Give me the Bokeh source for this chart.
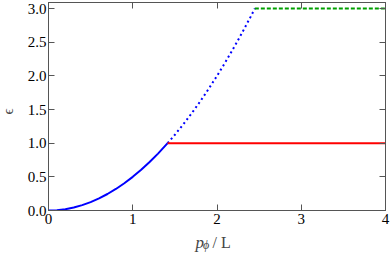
from bokeh.plotting import figure
from bokeh.models import LinearAxis, Label, Range1d, FixedTicker, CustomLabelingPolicy
from bokeh.embed import file_html
from bokeh.resources import INLINE
import math

# Blue solid branch
x_solid = [0.0, 0.1, 0.2, 0.3, 0.4, 0.5, 0.6, 0.7, 0.8, 0.9, 1.0, 1.1, 1.2, 1.3, 1.414]
y_solid = [0.0, 0.005, 0.02, 0.045, 0.08, 0.125, 0.18, 0.245, 0.32, 0.405, 0.5, 0.605, 0.72, 0.845, 1.0]
# Blue dotted branch
x_dot = [1.414, 1.5, 1.6, 1.7, 1.8, 1.9, 2.0, 2.1, 2.2, 2.3, 2.4, 2.449]
y_dot = [1.0, 1.125, 1.28, 1.445, 1.62, 1.805, 2.0, 2.205, 2.42, 2.645, 2.88, 3.0]
# Red solid plateau
x_red = [1.414, 4.0]
y_red = [1.0, 1.0]
# Green dashed plateau
x_green = [2.449, 4.0]
y_green = [3.0, 3.0]

x_ticks = [0, 1, 2, 3, 4]
y_ticks = [0.0, 0.5, 1.0, 1.5, 2.0, 2.5, 3.0]
y_tick_labels = ["0.0", "0.5", "1.0", "1.5", "2.0", "2.5", "3.0"]

FONT = "Liberation Serif"
FRAME = "#555555"

p = figure(width=390, height=257, output_backend="svg", toolbar_location=None,
           x_range=Range1d(0, 4), y_range=Range1d(0, 3.09),
           min_border_left=48, min_border_right=5, min_border_top=2, min_border_bottom=47)
p.grid.visible = False
p.outline_line_color = FRAME
p.background_fill_color = "white"
p.border_fill_color = "white"

hide_labels = CustomLabelingPolicy(code="""
    for (const i of Array.from(indices)) { indices.unset(i) }
    return indices
""")

def style(ax, ticks, labels=True):
    ax.ticker = FixedTicker(ticks=ticks, num_minor_ticks=5)
    ax.major_tick_in = 6
    ax.major_tick_out = 0
    ax.minor_tick_in = 3
    ax.minor_tick_out = 0
    ax.axis_line_color = FRAME
    ax.major_tick_line_color = FRAME
    ax.minor_tick_line_color = FRAME
    ax.major_label_text_font = FONT
    ax.major_label_text_color = "black"
    ax.major_label_text_font_size = "15px"
    ax.axis_label = None
    if not labels:
        ax.major_label_policy = hide_labels
        ax.major_label_text_font_size = "0px"
        ax.major_label_standoff = 0

style(p.xaxis[0], x_ticks)
p.xaxis[0].major_label_standoff = 3
style(p.yaxis[0], y_ticks)
p.yaxis[0].major_label_overrides = dict(zip(y_ticks, y_tick_labels))
p.yaxis[0].major_label_standoff = 2

right = LinearAxis()
style(right, y_ticks, labels=False)
p.add_layout(right, "right")
top = LinearAxis()
style(top, x_ticks, labels=False)
p.add_layout(top, "above")

p.line(x_solid, y_solid, line_color="#0000ff", line_width=2)
p.line(x_dot, y_dot, line_color="#0000ff", line_width=2, line_dash="2 3")
p.line(x_red, y_red, line_color="#ff0000", line_width=2)
p.line(x_green, y_green, line_color="#00a000", line_width=2, line_dash="4 2")

# axis-title pieces, placed in side panels so they are not clipped to the frame
p.add_layout(Label(x=-0.485, y=1.47, text="ϵ", text_font=FONT, text_font_size="15px",
                   angle=math.pi / 2, text_align="center", text_baseline="middle"), "below")
p.add_layout(Label(x=1.745, y=-0.475, text="p", text_font=FONT, text_font_style="italic",
                   text_font_size="17px", text_baseline="alphabetic"), "left")
p.add_layout(Label(x=1.834, y=-0.51, text="ϕ", text_font=FONT, text_font_style="italic",
                   text_font_size="12px", text_baseline="alphabetic"), "left")
p.add_layout(Label(x=1.947, y=-0.475, text="/ L", text_font=FONT, text_line_height=1.0,
                   text_font_size="16px", text_baseline="alphabetic"), "below")

open("out.html", "w").write(file_html(p, INLINE))
